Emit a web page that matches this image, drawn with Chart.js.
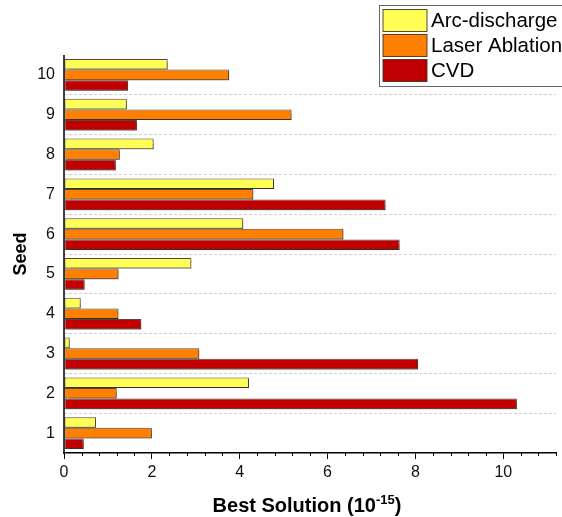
<!DOCTYPE html>
<html>
<head>
<meta charset="utf-8">
<script src="https://cdn.jsdelivr.net/npm/chart.js@4/dist/chart.umd.min.js"></script>
<style>
  html, body { margin: 0; padding: 0; background: #fff; }
  #wrap { width: 562px; height: 517px; }
</style>
</head>
<body>
<div id="wrap"><canvas id="grafico" width="562" height="517"></canvas></div>
<script>
// Dados (seed 1..10)
const seeds = ["1", "2", "3", "4", "5", "6", "7", "8", "9", "10"];
const arcDischarge = [0.73, 4.21, 0.13, 0.38, 2.90, 4.08, 4.78, 2.04, 1.43, 2.36];
const laserAblation = [2.00, 1.20, 3.08, 1.24, 1.24, 6.36, 4.31, 1.27, 5.18, 3.76];
const cvd = [0.45, 10.31, 8.06, 1.76, 0.47, 7.64, 7.32, 1.18, 1.66, 1.46];
const xTicks = { min: 0, max: 11.2, step: 0.4, labelEvery: 5 };

const fonte = "'Liberation Sans', Arial, sans-serif";
const borda = "rgba(70, 50, 30, 0.9)";

// seed 10 fica em cima
const rev = arr => arr.slice().reverse();

// Sombra leve nas barras
const sombraBarras = {
  id: "sombraBarras",
  beforeDatasetsDraw(chart) {
    const ctx = chart.ctx;
    ctx.save();
    ctx.shadowColor = "rgba(0,0,0,0.35)";
    ctx.shadowOffsetX = 1.5;
    ctx.shadowOffsetY = 1.5;
    ctx.shadowBlur = 1;
  },
  afterDatasetsDraw(chart) {
    chart.ctx.restore();
  }
};

// Eixo y, ticks menores, títulos e legenda
const extras = {
  id: "extras",
  afterDraw(chart) {
    const ctx = chart.ctx;
    const x = chart.scales.x;
    const area = chart.chartArea;

    // linha do eixo y (sólida)
    ctx.save();
    ctx.strokeStyle = "#000";
    ctx.lineWidth = 1.5;
    ctx.beginPath();
    ctx.moveTo(area.left, area.top);
    ctx.lineTo(area.left, area.bottom + 1);
    ctx.stroke();

    // ticks menores
    ctx.lineWidth = 1;
    x.ticks.forEach((t, i) => {
      if (i % xTicks.labelEvery === 0) return;
      const px = Math.round(x.getPixelForValue(t.value)) + 0.5;
      ctx.beginPath();
      ctx.moveTo(px, area.bottom);
      ctx.lineTo(px, area.bottom + 3);
      ctx.stroke();
    });
    ctx.restore();

    // título eixo x com expoente
    ctx.save();
    ctx.fillStyle = "#000";
    ctx.textBaseline = "alphabetic";
    const base = "Best Solution (10";
    const sup = "-15";
    const fim = ")";
    ctx.font = "bold 20px " + fonte;
    const w1 = ctx.measureText(base).width;
    const w3 = ctx.measureText(fim).width;
    ctx.font = "bold 13px " + fonte;
    const w2 = ctx.measureText(sup).width;
    const cx = (area.left + area.right) / 2;
    let tx = cx - (w1 + w2 + w3) / 2 - 3;
    const ty = 512;
    ctx.font = "bold 20px " + fonte;
    ctx.fillText(base, tx, ty);
    tx += w1;
    ctx.font = "bold 13px " + fonte;
    ctx.fillText(sup, tx, ty - 8);
    tx += w2;
    ctx.font = "bold 20px " + fonte;
    ctx.fillText(fim, tx, ty);
    ctx.restore();

    // título eixo y
    ctx.save();
    ctx.translate(26, (area.top + area.bottom) / 2);
    ctx.rotate(-Math.PI / 2);
    ctx.font = "bold 18px " + fonte;
    ctx.fillStyle = "#000";
    ctx.textAlign = "center";
    ctx.textBaseline = "alphabetic";
    ctx.fillText("Seed", 0, 0);
    ctx.restore();

    // legenda
    ctx.save();
    ctx.fillStyle = "#fff";
    ctx.fillRect(379.5, 5.5, 190, 81);
    ctx.strokeStyle = "#666";
    ctx.lineWidth = 1;
    ctx.strokeRect(379.5, 5.5, 190, 81);
    ctx.font = "20.5px " + fonte;
    ctx.textBaseline = "middle";
    chart.data.datasets.forEach((ds, i) => {
      const y = 9.5 + i * 25;
      ctx.fillStyle = ds.backgroundColor;
      ctx.fillRect(383, y, 44, 22);
      ctx.strokeStyle = borda;
      ctx.strokeRect(383, y, 44, 22);
      ctx.fillStyle = "#000";
      ctx.fillText(ds.label, 431, y + 12);
    });
    ctx.restore();
  }
};

new Chart(document.getElementById("grafico").getContext("2d"), {
  type: "bar",
  data: {
    labels: rev(seeds),
    datasets: [
      { label: "Arc-discharge", data: rev(arcDischarge), backgroundColor: "#ffff55" },
      { label: "Laser Ablation", data: rev(laserAblation), backgroundColor: "#ff8000" },
      { label: "CVD", data: rev(cvd), backgroundColor: "#c00000" }
    ].map(ds => Object.assign(ds, {
      borderColor: borda,
      borderWidth: 1,
      borderSkipped: false,
      categoryPercentage: 0.8,
      barPercentage: 1.0
    }))
  },
  options: {
    indexAxis: "y",
    responsive: false,
    animation: false,
    layout: { padding: { top: 55, right: 6, left: 0, bottom: 0 } },
    plugins: {
      legend: { display: false },
      tooltip: { enabled: false }
    },
    scales: {
      x: {
        type: "linear",
        min: xTicks.min,
        max: xTicks.max,
        afterFit(scale) { scale.height = 64; },
        grid: {
          drawOnChartArea: false,
          drawTicks: true,
          tickLength: 6,
          tickColor: c => (c.index % xTicks.labelEvery === 0 ? "#000" : "transparent")
        },
        border: { display: true, color: "#000", width: 1.5 },
        ticks: {
          stepSize: xTicks.step,
          autoSkip: false,
          maxTicksLimit: 100,
          maxRotation: 0,
          padding: 4,
          color: "#111",
          font: { family: fonte, size: 16 },
          callback: (v, i) => (i % xTicks.labelEvery === 0 ? String(Math.round(v)) : "")
        }
      },
      y: {
        z: 1,
        afterFit(scale) { scale.width = 64; },
        grid: {
          offset: true,
          drawTicks: false,
          color: c => (c.index === 0 || c.index >= seeds.length ? "transparent" : "#d0d0d0"),
          lineWidth: 1
        },
        border: { display: false, dash: [3, 2] },
        ticks: {
          padding: 9,
          color: "#111",
          font: { family: fonte, size: 16 }
        }
      }
    }
  },
  plugins: [sombraBarras, extras]
});
</script>
</body>
</html>
